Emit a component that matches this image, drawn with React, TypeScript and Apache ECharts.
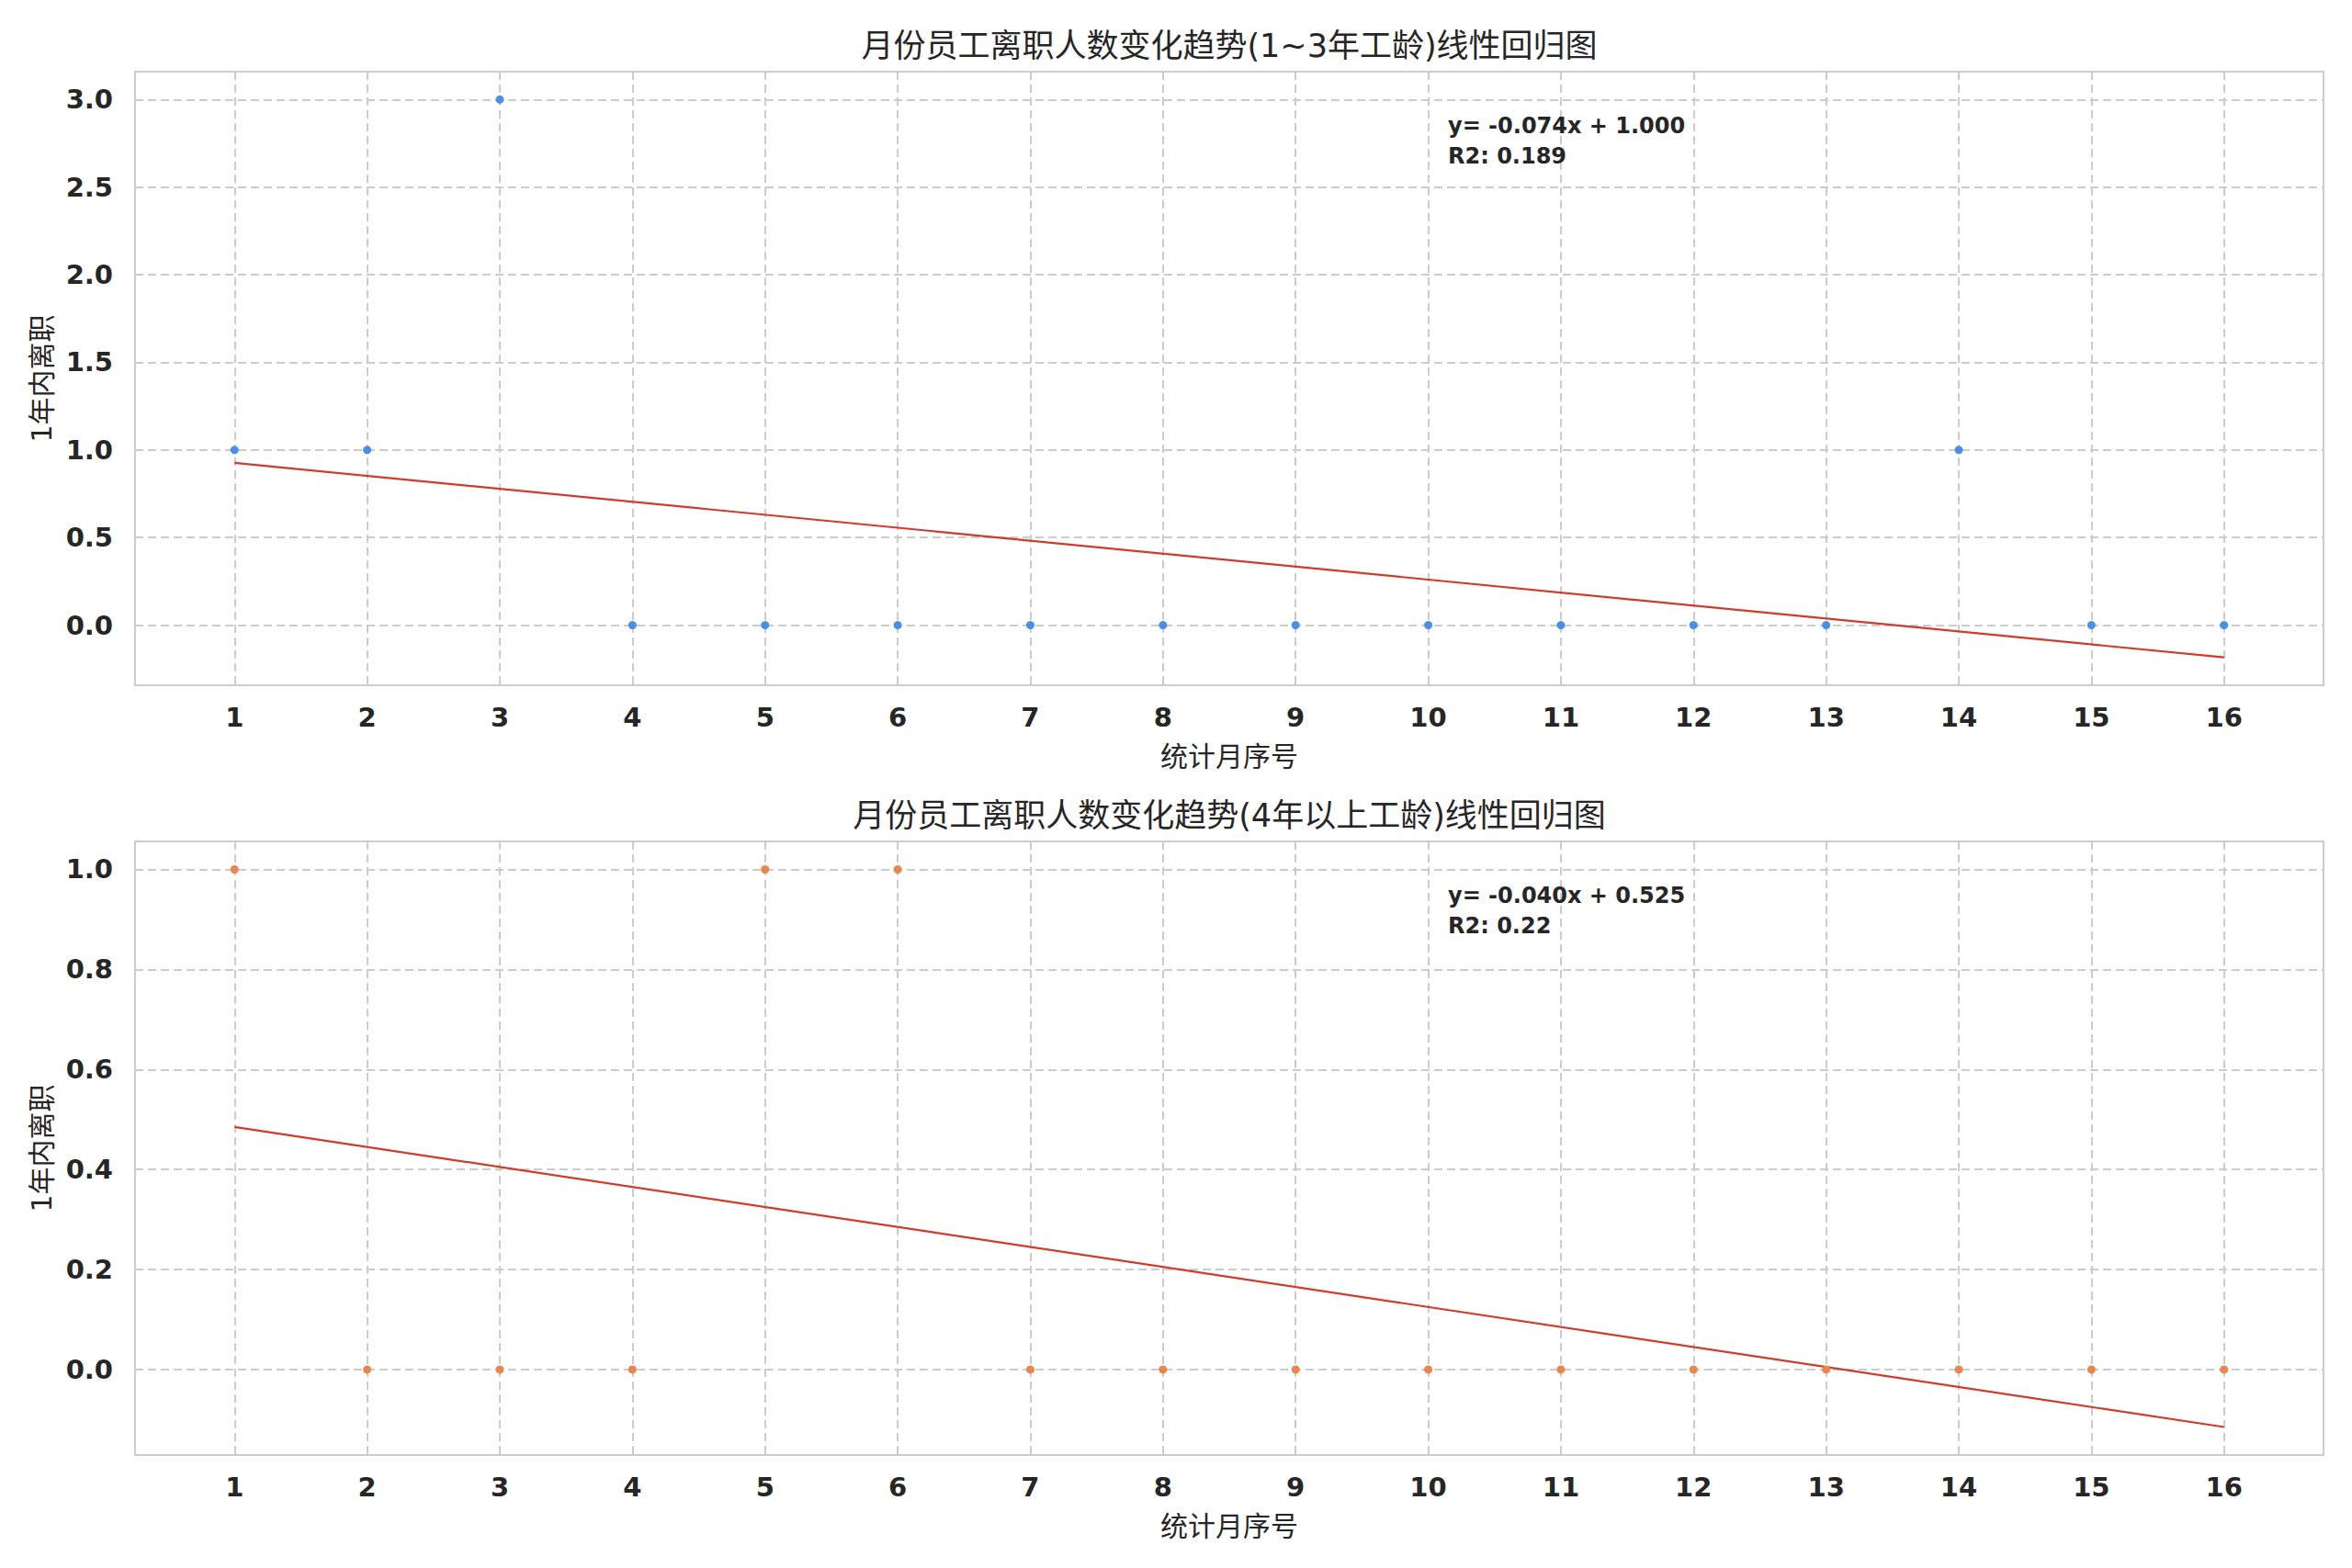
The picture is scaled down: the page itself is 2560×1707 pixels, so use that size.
import React, { useEffect, useRef } from "react";
import * as echarts from "echarts";

// ---- data ----
const X_VALUES = [1, 2, 3, 4, 5, 6, 7, 8, 9, 10, 11, 12, 13, 14, 15, 16];
const X_TICK_LABELS = ["1", "2", "3", "4", "5", "6", "7", "8", "9", "10", "11", "12", "13", "14", "15", "16"];
const TOP_COUNTS = [1, 1, 3, 0, 0, 0, 0, 0, 0, 0, 0, 0, 0, 1, 0, 0];
const BOTTOM_COUNTS = [1, 0, 0, 0, 1, 1, 0, 0, 0, 0, 0, 0, 0, 0, 0, 0];
const TOP_FIT = [-0.074, 1.0]; // slope, intercept
const BOTTOM_FIT = [-0.04, 0.525];
const TOP_ANNOT = ["y= -0.074x + 1.000", "R2: 0.189"];
const BOTTOM_ANNOT = ["y= -0.040x + 0.525", "R2: 0.22"];
const TITLES = [
  "月份员工离职人数变化趋势(1~3年工龄)线性回归图",
  "月份员工离职人数变化趋势(4年以上工龄)线性回归图",
];
const X_NAME = "统计月序号";
const Y_NAME = "1年内离职";
const X_RANGE = [0.25, 16.75];
const TOP_Y_RANGE = [-0.343, 3.159];
const BOTTOM_Y_RANGE = [-0.171, 1.056];

const FONT = "'DejaVu Sans', 'Noto Sans CJK SC', sans-serif";
const TEXT = "#262626";
const GRIDC = "#cccccc";

export default function App() {
  const ref = useRef<HTMLDivElement>(null);
  useEffect(() => {
    if (!ref.current) return;
    const chart = echarts.init(ref.current, null, { renderer: "svg" });
    const L = 147, W = 2382, H = 668;
    const tops = [78, 916];

    const fits = [TOP_FIT, BOTTOM_FIT];
    const counts = [TOP_COUNTS, BOTTOM_COUNTS];
    const yRanges = [TOP_Y_RANGE, BOTTOM_Y_RANGE];
    const yIntervals = [0.5, 0.2];
    const pointColors = ["#4a90e2", "#ee8548"];
    const annots = [TOP_ANNOT, BOTTOM_ANNOT];

    const grid = tops.map((t) => ({
      left: L, top: t, width: W, height: H, show: true,
      borderColor: GRIDC, borderWidth: 2, backgroundColor: "#ffffff",
    }));

    const xAxis = tops.map((_, i) => ({
      type: "value", gridIndex: i, min: X_RANGE[0], max: X_RANGE[1],
      minInterval: 1, maxInterval: 1,
      name: X_NAME, nameLocation: "middle", nameGap: 62,
      nameTextStyle: { fontFamily: FONT, fontSize: 30, color: TEXT },
      axisLine: { show: false }, axisTick: { show: false },
      axisLabel: {
        showMinLabel: false, showMaxLabel: false, margin: 20,
        fontFamily: FONT, fontSize: 29, fontWeight: "bold", color: TEXT,
        formatter: (v: number) => {
          const idx = X_VALUES.indexOf(v);
          return idx >= 0 ? X_TICK_LABELS[idx] : "";
        },
      },
      splitLine: {
        show: true, showMinLine: false, showMaxLine: false,
        lineStyle: { color: GRIDC, width: 2, type: [9, 5] },
      },
    }));

    const yAxis = tops.map((_, i) => ({
      type: "value", gridIndex: i, min: yRanges[i][0], max: yRanges[i][1],
      minInterval: yIntervals[i], maxInterval: yIntervals[i],
      name: Y_NAME, nameLocation: "middle", nameGap: 84, nameRotate: 90,
      nameTextStyle: { fontFamily: FONT, fontSize: 30, color: TEXT },
      axisLine: { show: false }, axisTick: { show: false },
      axisLabel: {
        showMinLabel: false, showMaxLabel: false, margin: 24,
        fontFamily: FONT, fontSize: 29, fontWeight: "bold", color: TEXT,
        formatter: (v: number) => (Math.abs(v) < 1e-9 ? 0 : v).toFixed(1),
      },
      splitLine: {
        show: true, showMinLine: false, showMaxLine: false,
        lineStyle: { color: GRIDC, width: 2, type: [9, 5] },
      },
    }));

    const series: any[] = [];
    tops.forEach((_, i) => {
      const x0 = X_VALUES[0], x1 = X_VALUES[X_VALUES.length - 1];
      series.push({
        type: "line", xAxisIndex: i, yAxisIndex: i, z: 2,
        data: [[x0, fits[i][0] * x0 + fits[i][1]], [x1, fits[i][0] * x1 + fits[i][1]]],
        symbol: "none", lineStyle: { color: "#d03b2b", width: 2.2 },
      });
      series.push({
        type: "scatter", xAxisIndex: i, yAxisIndex: i, z: 3,
        data: X_VALUES.map((x, k) => [x, counts[i][k]]),
        symbolSize: 9, itemStyle: { color: pointColors[i], opacity: 1 },
      });
    });

    const graphic: any[] = [];
    tops.forEach((t, i) => {
      graphic.push({
        type: "text", x: L + W / 2, y: t - 28, z: 10,
        style: {
          text: TITLES[i], fontFamily: FONT, fontSize: 35, fill: TEXT,
          textAlign: "center", textVerticalAlign: "middle",
        },
      });
      graphic.push({
        type: "text", x: 1576, y: t + 42, z: 10,
        style: {
          text: annots[i].join("\n"), fontFamily: FONT, fontSize: 24,
          fontWeight: "bold", fill: TEXT, lineHeight: 33,
          textAlign: "left", textVerticalAlign: "top",
        },
      });
    });

    chart.setOption({
      animation: false,
      backgroundColor: "#ffffff",
      grid, xAxis, yAxis, series, graphic,
    });
    return () => chart.dispose();
  }, []);
  return (
    <div
      ref={ref}
      style={{ position: "absolute", left: 0, top: 0, width: 2560, height: 1707 }}
    />
  );
}
